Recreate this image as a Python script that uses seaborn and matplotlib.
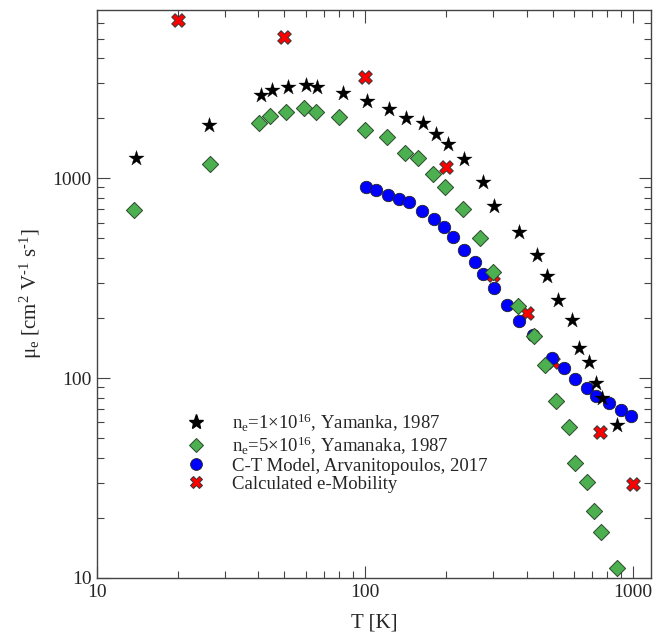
import numpy as np
import pandas as pd
import matplotlib
matplotlib.use("Agg")
import matplotlib.pyplot as plt
import seaborn as sns
from matplotlib.ticker import LogLocator, NullFormatter, FixedLocator, FixedFormatter
from matplotlib.lines import Line2D

# ---- data ----
T_star = [14, 26.2, 40.9, 45.1, 51.6, 60.3, 66.2, 82.5, 102, 123, 142, 164, 184, 203,
          234, 275, 303, 375, 436, 478, 526, 590, 630, 685, 728, 768, 872]
mu_star = [1263, 1841, 2600, 2763, 2873, 2941, 2851, 2661, 2446, 2231, 1995, 1899, 1660, 1491,
           1245, 958, 724, 539, 415, 325, 246, 195, 141, 121, 94.4, 79.1, 58.2]

T_dia = [13.7, 26.3, 40.3, 44.2, 50.7, 59.1, 65.5, 80.2, 100, 120.5, 140.6, 158, 179, 199,
         231.5, 269, 300, 372, 427, 467, 516, 578, 609, 670, 711, 758, 870]
mu_dia = [694, 1184, 1890, 2058, 2138, 2239, 2138, 2018, 1744, 1617, 1338, 1257, 1047, 909,
          705, 501, 338, 230, 162, 116.5, 77, 56.9, 37.6, 30.1, 21.6, 17, 11.2]

T_ct = [101, 110, 122, 134, 145.5, 163, 180, 197, 212, 234, 256, 276, 303, 339, 375.5,
        422, 497, 553, 609, 674, 728, 809, 900, 985]
mu_ct = [907, 871, 829, 785, 761, 689, 624, 569, 507, 437, 379, 332, 281, 232, 193,
         165, 126, 112, 98.9, 88.8, 81.5, 75, 69, 64.4]

T_calc = [20, 50, 100, 200, 300, 400, 500, 750, 1000]
mu_calc = [6200, 5100, 3230, 1145, 330, 211, 120, 53.5, 29.5]

labels = [r"n$_\mathregular{e}$=1×10$^\mathregular{16}$, Yamanka, 1987",
          r"n$_\mathregular{e}$=5×10$^\mathregular{16}$, Yamanaka, 1987",
          "C-T Model, Arvanitopoulos, 2017",
          "Calculated e-Mobility"]

sns.set_style("ticks")
plt.rcParams["font.family"] = ["Liberation Serif", "DejaVu Serif"]
plt.rcParams["mathtext.fontset"] = "custom"
plt.rcParams["mathtext.rm"] = "Liberation Serif"
plt.rcParams["mathtext.it"] = "Liberation Serif:italic"
plt.rcParams["mathtext.default"] = "regular"

fig = plt.figure(figsize=(6.64, 6.38), dpi=100)
ax = fig.add_axes([97/664, 1 - 578/638, (651-97)/664, (578-10)/638])

df_calc = pd.DataFrame({"T": T_calc, "mu": mu_calc})
df_ct = pd.DataFrame({"T": T_ct, "mu": mu_ct})
df_dia = pd.DataFrame({"T": T_dia, "mu": mu_dia})
df_star = pd.DataFrame({"T": T_star, "mu": mu_star})

sns.scatterplot(data=df_calc, x="T", y="mu", ax=ax, marker="X", s=95,
                color="#ff0000", edgecolor="#333333", linewidth=0.7, zorder=2)
sns.scatterplot(data=df_ct, x="T", y="mu", ax=ax, marker="o", s=80,
                color="#0000ff", edgecolor="#222222", linewidth=0.6, zorder=3)
sns.scatterplot(data=df_dia, x="T", y="mu", ax=ax, marker="D", s=68,
                color="#4caf50", edgecolor="#2a4a2a", linewidth=0.7, zorder=4)
sns.scatterplot(data=df_star, x="T", y="mu", ax=ax, marker="*", s=135,
                color="black", edgecolor="black", linewidth=0.2, zorder=5)

ax.set_xscale("log")
ax.set_yscale("log")
ax.set_xlim(10, 1165)
ax.set_ylim(10, 6950)

ax.set_xlabel("T [K]", fontsize=15, labelpad=9)
ax.set_ylabel("μ$_\\mathregular{e}$ [cm$^\\mathregular{2}$ V$^\\mathregular{\u2010 1}$ s$^\\mathregular{\u2010 1}$]",
              fontsize=15, labelpad=6)

ax.xaxis.set_major_locator(FixedLocator([10, 100, 1000]))
ax.xaxis.set_major_formatter(FixedFormatter(["10", "100", "1000"]))
ax.yaxis.set_major_locator(FixedLocator([10, 100, 1000]))
ax.yaxis.set_major_formatter(FixedFormatter(["10", "100", "1000"]))
ax.xaxis.set_minor_locator(LogLocator(base=10, subs=np.arange(2, 10), numticks=20))
ax.yaxis.set_minor_locator(LogLocator(base=10, subs=np.arange(2, 10), numticks=20))
ax.xaxis.set_minor_formatter(NullFormatter())
ax.yaxis.set_minor_formatter(NullFormatter())
ax.tick_params(which="both", direction="in", top=True, right=True, color="#444444")
ax.tick_params(which="major", length=9, width=0.8, labelsize=14, pad=4)
ax.tick_params(which="minor", length=5, width=0.8)
for sp in ax.spines.values():
    sp.set_linewidth(1.0)
    sp.set_color("#444444")

handles = [
    Line2D([], [], ls="none", marker="*", ms=11, color="black"),
    Line2D([], [], ls="none", marker="D", ms=7.5, mfc="#4caf50", mec="#2a4a2a", mew=0.7),
    Line2D([], [], ls="none", marker="o", ms=8.5, mfc="#0000ff", mec="#222222", mew=0.6),
    Line2D([], [], ls="none", marker="X", ms=9, mfc="#ff0000", mec="#333333", mew=0.7),
]
ax.legend(handles, labels, loc="upper left", bbox_to_anchor=(174/664, 1 - 404/638),
          bbox_transform=fig.transFigure, frameon=False, fontsize=13.5,
          handletextpad=1.2, labelspacing=0.05, borderaxespad=0, handlelength=1.5)

fig.savefig("out.png", dpi=100)
